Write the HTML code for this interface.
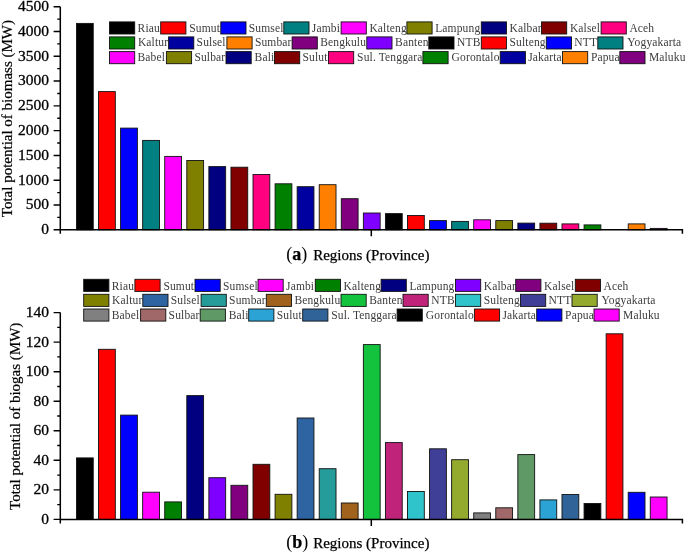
<!DOCTYPE html>
<html><head><meta charset="utf-8"><style>
html,body{margin:0;padding:0;background:#fff;}
body{width:685px;height:553px;overflow:hidden;}
svg{display:block;will-change:transform;}
text{font-family:"Liberation Serif",serif;fill:#000;}
.tl{font-size:15.5px;stroke:#000;stroke-width:0.3px;}
.lg{font-size:11.5px;fill:#3c3c3c;letter-spacing:0.15px;}
.yl{font-size:16px;stroke:#000;stroke-width:0.2px;}
.xl{font-size:15px;stroke:#000;stroke-width:0.25px;}
.xb{font-size:18px;font-weight:bold;}
.xp{font-size:18px;stroke-width:0;}
</style></head><body>
<svg width="685" height="553" viewBox="0 0 685 553" shape-rendering="auto">
<rect width="685" height="553" fill="#fff"/>
<rect x="76.45" y="23.4" width="16.8" height="206.4" fill="#000000" stroke="#111" stroke-width="0.9"/>
<rect x="98.52" y="91.6" width="16.8" height="138.2" fill="#FF0000" stroke="#111" stroke-width="0.9"/>
<rect x="120.59" y="128.1" width="16.8" height="101.7" fill="#0000FF" stroke="#111" stroke-width="0.9"/>
<rect x="142.66" y="140.4" width="16.8" height="89.4" fill="#008080" stroke="#111" stroke-width="0.9"/>
<rect x="164.73" y="156.4" width="16.8" height="73.4" fill="#FF00FF" stroke="#111" stroke-width="0.9"/>
<rect x="186.8" y="160.5" width="16.8" height="69.3" fill="#808000" stroke="#111" stroke-width="0.9"/>
<rect x="208.87" y="166.6" width="16.8" height="63.2" fill="#000080" stroke="#111" stroke-width="0.9"/>
<rect x="230.94" y="167.2" width="16.8" height="62.6" fill="#800000" stroke="#111" stroke-width="0.9"/>
<rect x="253.01" y="174.5" width="16.8" height="55.3" fill="#FF0080" stroke="#111" stroke-width="0.9"/>
<rect x="275.08" y="183.8" width="16.8" height="46" fill="#008000" stroke="#111" stroke-width="0.9"/>
<rect x="297.15" y="186.7" width="16.8" height="43.1" fill="#0000A0" stroke="#111" stroke-width="0.9"/>
<rect x="319.22" y="184.7" width="16.8" height="45.1" fill="#FF8000" stroke="#111" stroke-width="0.9"/>
<rect x="341.29" y="198.7" width="16.8" height="31.1" fill="#800080" stroke="#111" stroke-width="0.9"/>
<rect x="363.36" y="213" width="16.8" height="16.8" fill="#8000FF" stroke="#111" stroke-width="0.9"/>
<rect x="385.43" y="213.6" width="16.8" height="16.2" fill="#000000" stroke="#111" stroke-width="0.9"/>
<rect x="407.5" y="215.5" width="16.8" height="14.3" fill="#FF0000" stroke="#111" stroke-width="0.9"/>
<rect x="429.57" y="220.6" width="16.8" height="9.2" fill="#0000FF" stroke="#111" stroke-width="0.9"/>
<rect x="451.64" y="221.4" width="16.8" height="8.4" fill="#008080" stroke="#111" stroke-width="0.9"/>
<rect x="473.71" y="219.8" width="16.8" height="10" fill="#FF00FF" stroke="#111" stroke-width="0.9"/>
<rect x="495.78" y="220.6" width="16.8" height="9.2" fill="#808000" stroke="#111" stroke-width="0.9"/>
<rect x="517.85" y="223.1" width="16.8" height="6.7" fill="#000080" stroke="#111" stroke-width="0.9"/>
<rect x="539.92" y="223.2" width="16.8" height="6.6" fill="#800000" stroke="#111" stroke-width="0.9"/>
<rect x="561.99" y="223.9" width="16.8" height="5.9" fill="#FF0080" stroke="#111" stroke-width="0.9"/>
<rect x="584.06" y="224.9" width="16.8" height="4.9" fill="#008000" stroke="#111" stroke-width="0.9"/>
<rect x="628.2" y="223.9" width="16.8" height="5.9" fill="#FF8000" stroke="#111" stroke-width="0.9"/>
<rect x="650.27" y="228.4" width="16.8" height="1.4" fill="#800080" stroke="#111" stroke-width="0.9"/>
<path d="M60.3 6.7V229.8H682.4V233.8M60.3 229.8V233.8M371.3 229.8V236.3" fill="none" stroke="#000" stroke-width="1.5"/>
<text x="48.9" y="234.2" text-anchor="end" class="tl">0</text>
<text x="48.9" y="209.41" text-anchor="end" class="tl">500</text>
<text x="48.9" y="184.62" text-anchor="end" class="tl">1000</text>
<text x="48.9" y="159.83" text-anchor="end" class="tl">1500</text>
<text x="48.9" y="135.04" text-anchor="end" class="tl">2000</text>
<text x="48.9" y="110.26" text-anchor="end" class="tl">2500</text>
<text x="48.9" y="85.47" text-anchor="end" class="tl">3000</text>
<text x="48.9" y="60.68" text-anchor="end" class="tl">3500</text>
<text x="48.9" y="35.89" text-anchor="end" class="tl">4000</text>
<text x="48.9" y="11.1" text-anchor="end" class="tl">4500</text>
<path d="M53.6 229.8H60.3M53.6 205.01H60.3M53.6 180.22H60.3M53.6 155.43H60.3M53.6 130.64H60.3M53.6 105.86H60.3M53.6 81.07H60.3M53.6 56.28H60.3M53.6 31.49H60.3M53.6 6.7H60.3M57.2 217.41H60.3M57.2 192.62H60.3M57.2 167.83H60.3M57.2 143.04H60.3M57.2 118.25H60.3M57.2 93.46H60.3M57.2 68.67H60.3M57.2 43.88H60.3M57.2 19.09H60.3" stroke="#000" stroke-width="1.4" fill="none"/>
<text transform="translate(12.2,118.6) rotate(-90)" text-anchor="middle" class="yl" style="font-size:15px">Total potential of biomass (MW)</text>
<text x="286.3" y="259.5" class="xl"><tspan class="xp">(</tspan><tspan class="xb">a</tspan><tspan class="xp">)</tspan><tspan x="313.2">Regions (Province)</tspan></text>
<rect x="109.5" y="21.9" width="25.2" height="12.1" fill="#000000" stroke="#111" stroke-width="0.9"/>
<text x="137.6" y="31.6" class="lg">Riau</text>
<rect x="160.7" y="21.9" width="25.2" height="12.1" fill="#FF0000" stroke="#111" stroke-width="0.9"/>
<text x="189.2" y="31.6" class="lg">Sumut</text>
<rect x="220.8" y="21.9" width="25.2" height="12.1" fill="#0000FF" stroke="#111" stroke-width="0.9"/>
<text x="248.8" y="31.6" class="lg">Sumsel</text>
<rect x="283.8" y="21.9" width="25.2" height="12.1" fill="#008080" stroke="#111" stroke-width="0.9"/>
<text x="311.8" y="31.6" class="lg">Jambi</text>
<rect x="341.1" y="21.9" width="25.2" height="12.1" fill="#FF00FF" stroke="#111" stroke-width="0.9"/>
<text x="369.4" y="31.6" class="lg">Kalteng</text>
<rect x="406.9" y="21.9" width="25.2" height="12.1" fill="#808000" stroke="#111" stroke-width="0.9"/>
<text x="435.2" y="31.6" class="lg">Lampung</text>
<rect x="481.3" y="21.9" width="25.2" height="12.1" fill="#000080" stroke="#111" stroke-width="0.9"/>
<text x="509.5" y="31.6" class="lg">Kalbar</text>
<rect x="541.5" y="21.9" width="25.2" height="12.1" fill="#800000" stroke="#111" stroke-width="0.9"/>
<text x="569.9" y="31.6" class="lg">Kalsel</text>
<rect x="601.1" y="21.9" width="25.2" height="12.1" fill="#FF0080" stroke="#111" stroke-width="0.9"/>
<text x="629.4" y="31.6" class="lg">Aceh</text>
<rect x="109.5" y="36.9" width="25.2" height="12.1" fill="#008000" stroke="#111" stroke-width="0.9"/>
<text x="137.9" y="46.2" class="lg">Kaltur</text>
<rect x="168.6" y="36.9" width="25.2" height="12.1" fill="#0000A0" stroke="#111" stroke-width="0.9"/>
<text x="196.6" y="46.2" class="lg">Sulsel</text>
<rect x="226.9" y="36.9" width="25.2" height="12.1" fill="#FF8000" stroke="#111" stroke-width="0.9"/>
<text x="254.9" y="46.2" class="lg">Sumbar</text>
<rect x="292.1" y="36.9" width="25.2" height="12.1" fill="#800080" stroke="#111" stroke-width="0.9"/>
<text x="320.2" y="46.2" class="lg">Bengkulu</text>
<rect x="366.8" y="36.9" width="25.2" height="12.1" fill="#8000FF" stroke="#111" stroke-width="0.9"/>
<text x="395.1" y="46.2" class="lg">Banten</text>
<rect x="428.8" y="36.9" width="25.2" height="12.1" fill="#000000" stroke="#111" stroke-width="0.9"/>
<text x="457.1" y="46.2" class="lg">NTB</text>
<rect x="481.3" y="36.9" width="25.2" height="12.1" fill="#FF0000" stroke="#111" stroke-width="0.9"/>
<text x="509.5" y="46.2" class="lg">Sulteng</text>
<rect x="546.3" y="36.9" width="25.2" height="12.1" fill="#0000FF" stroke="#111" stroke-width="0.9"/>
<text x="574.3" y="46.2" class="lg">NTT</text>
<rect x="597.8" y="36.9" width="25.2" height="12.1" fill="#008080" stroke="#111" stroke-width="0.9"/>
<text x="627.3" y="46.2" class="lg">Yogyakarta</text>
<rect x="109.5" y="51.6" width="25.2" height="12.1" fill="#FF00FF" stroke="#111" stroke-width="0.9"/>
<text x="137.5" y="60.6" class="lg">Babel</text>
<rect x="166.4" y="51.6" width="25.2" height="12.1" fill="#808000" stroke="#111" stroke-width="0.9"/>
<text x="194.4" y="60.6" class="lg">Sulbar</text>
<rect x="226" y="51.6" width="25.2" height="12.1" fill="#000080" stroke="#111" stroke-width="0.9"/>
<text x="254.6" y="60.6" class="lg">Bali</text>
<rect x="274.5" y="51.6" width="25.2" height="12.1" fill="#800000" stroke="#111" stroke-width="0.9"/>
<text x="302.5" y="60.6" class="lg">Sulut</text>
<rect x="328.5" y="51.6" width="25.2" height="12.1" fill="#FF0080" stroke="#111" stroke-width="0.9"/>
<text x="357.1" y="60.6" class="lg">Sul. Tenggara</text>
<rect x="422.9" y="51.6" width="25.2" height="12.1" fill="#008000" stroke="#111" stroke-width="0.9"/>
<text x="451.6" y="60.6" class="lg">Gorontalo</text>
<rect x="500.2" y="51.6" width="25.2" height="12.1" fill="#0000A0" stroke="#111" stroke-width="0.9"/>
<text x="528.2" y="60.6" class="lg">Jakarta</text>
<rect x="562.5" y="51.6" width="25.2" height="12.1" fill="#FF8000" stroke="#111" stroke-width="0.9"/>
<text x="590.9" y="60.6" class="lg">Papua</text>
<rect x="619.8" y="51.6" width="25.2" height="12.1" fill="#800080" stroke="#111" stroke-width="0.9"/>
<text x="648.9" y="60.6" class="lg">Maluku</text>
<rect x="76.45" y="457.9" width="16.8" height="61.5" fill="#000000" stroke="#111" stroke-width="0.9"/>
<rect x="98.52" y="349.3" width="16.8" height="170.1" fill="#FF0000" stroke="#111" stroke-width="0.9"/>
<rect x="120.59" y="415.1" width="16.8" height="104.3" fill="#0000FF" stroke="#111" stroke-width="0.9"/>
<rect x="142.66" y="492.2" width="16.8" height="27.2" fill="#FF00FF" stroke="#111" stroke-width="0.9"/>
<rect x="164.73" y="501.9" width="16.8" height="17.5" fill="#008000" stroke="#111" stroke-width="0.9"/>
<rect x="186.8" y="395.6" width="16.8" height="123.8" fill="#000080" stroke="#111" stroke-width="0.9"/>
<rect x="208.87" y="477.7" width="16.8" height="41.7" fill="#8000FF" stroke="#111" stroke-width="0.9"/>
<rect x="230.94" y="485.3" width="16.8" height="34.1" fill="#800080" stroke="#111" stroke-width="0.9"/>
<rect x="253.01" y="464.3" width="16.8" height="55.1" fill="#800000" stroke="#111" stroke-width="0.9"/>
<rect x="275.08" y="494.3" width="16.8" height="25.1" fill="#808000" stroke="#111" stroke-width="0.9"/>
<rect x="297.15" y="418" width="16.8" height="101.4" fill="#2E64A2" stroke="#111" stroke-width="0.9"/>
<rect x="319.22" y="468.7" width="16.8" height="50.7" fill="#259B9A" stroke="#111" stroke-width="0.9"/>
<rect x="341.29" y="503" width="16.8" height="16.4" fill="#A0621C" stroke="#111" stroke-width="0.9"/>
<rect x="363.36" y="344.6" width="16.8" height="174.8" fill="#13C33E" stroke="#111" stroke-width="0.9"/>
<rect x="385.43" y="442.6" width="16.8" height="76.8" fill="#C0247A" stroke="#111" stroke-width="0.9"/>
<rect x="407.5" y="491.5" width="16.8" height="27.9" fill="#2FC3CB" stroke="#111" stroke-width="0.9"/>
<rect x="429.57" y="448.8" width="16.8" height="70.6" fill="#3F3F98" stroke="#111" stroke-width="0.9"/>
<rect x="451.64" y="459.7" width="16.8" height="59.7" fill="#94AA2F" stroke="#111" stroke-width="0.9"/>
<rect x="473.71" y="512.9" width="16.8" height="6.5" fill="#808080" stroke="#111" stroke-width="0.9"/>
<rect x="495.78" y="507.8" width="16.8" height="11.6" fill="#A06868" stroke="#111" stroke-width="0.9"/>
<rect x="517.85" y="454.6" width="16.8" height="64.8" fill="#5F9A66" stroke="#111" stroke-width="0.9"/>
<rect x="539.92" y="499.9" width="16.8" height="19.5" fill="#2BA3D4" stroke="#111" stroke-width="0.9"/>
<rect x="561.99" y="494.5" width="16.8" height="24.9" fill="#306498" stroke="#111" stroke-width="0.9"/>
<rect x="584.06" y="503.5" width="16.8" height="15.9" fill="#000000" stroke="#111" stroke-width="0.9"/>
<rect x="606.13" y="333.8" width="16.8" height="185.6" fill="#FF0000" stroke="#111" stroke-width="0.9"/>
<rect x="628.2" y="492.3" width="16.8" height="27.1" fill="#0000FF" stroke="#111" stroke-width="0.9"/>
<rect x="650.27" y="497" width="16.8" height="22.4" fill="#FF00FF" stroke="#111" stroke-width="0.9"/>
<path d="M60.3 312.6V519.4H682.4V523.4M60.3 519.4V523.4M371.3 519.4V525.9" fill="none" stroke="#000" stroke-width="1.5"/>
<text x="48.9" y="523.8" text-anchor="end" class="tl">0</text>
<text x="48.9" y="494.26" text-anchor="end" class="tl">20</text>
<text x="48.9" y="464.71" text-anchor="end" class="tl">40</text>
<text x="48.9" y="435.17" text-anchor="end" class="tl">60</text>
<text x="48.9" y="405.63" text-anchor="end" class="tl">80</text>
<text x="48.9" y="376.09" text-anchor="end" class="tl">100</text>
<text x="48.9" y="346.54" text-anchor="end" class="tl">120</text>
<text x="48.9" y="317" text-anchor="end" class="tl">140</text>
<path d="M53.6 519.4H60.3M53.6 489.86H60.3M53.6 460.31H60.3M53.6 430.77H60.3M53.6 401.23H60.3M53.6 371.69H60.3M53.6 342.14H60.3M53.6 312.6H60.3M57.2 504.63H60.3M57.2 475.09H60.3M57.2 445.54H60.3M57.2 416H60.3M57.2 386.46H60.3M57.2 356.91H60.3M57.2 327.37H60.3" stroke="#000" stroke-width="1.4" fill="none"/>
<text transform="translate(20.4,416.3) rotate(-90)" text-anchor="middle" class="yl" style="font-size:15px">Total potential of biogas (MW)</text>
<text x="286.3" y="548.1" class="xl"><tspan class="xp">(</tspan><tspan class="xb">b</tspan><tspan class="xp">)</tspan><tspan x="313.2">Regions (Province)</tspan></text>
<rect x="83.7" y="279.3" width="25.2" height="12.1" fill="#000000" stroke="#111" stroke-width="0.9"/>
<text x="111.8" y="289.6" class="lg">Riau</text>
<rect x="134.9" y="279.3" width="25.2" height="12.1" fill="#FF0000" stroke="#111" stroke-width="0.9"/>
<text x="163.4" y="289.6" class="lg">Sumut</text>
<rect x="195" y="279.3" width="25.2" height="12.1" fill="#0000FF" stroke="#111" stroke-width="0.9"/>
<text x="223" y="289.6" class="lg">Sumsel</text>
<rect x="258" y="279.3" width="25.2" height="12.1" fill="#FF00FF" stroke="#111" stroke-width="0.9"/>
<text x="286" y="289.6" class="lg">Jambi</text>
<rect x="315.3" y="279.3" width="25.2" height="12.1" fill="#008000" stroke="#111" stroke-width="0.9"/>
<text x="343.6" y="289.6" class="lg">Kalteng</text>
<rect x="381.1" y="279.3" width="25.2" height="12.1" fill="#000080" stroke="#111" stroke-width="0.9"/>
<text x="409.4" y="289.6" class="lg">Lampung</text>
<rect x="455.5" y="279.3" width="25.2" height="12.1" fill="#8000FF" stroke="#111" stroke-width="0.9"/>
<text x="483.7" y="289.6" class="lg">Kalbar</text>
<rect x="515.7" y="279.3" width="25.2" height="12.1" fill="#800080" stroke="#111" stroke-width="0.9"/>
<text x="544.1" y="289.6" class="lg">Kalsel</text>
<rect x="575.3" y="279.3" width="25.2" height="12.1" fill="#800000" stroke="#111" stroke-width="0.9"/>
<text x="603.6" y="289.6" class="lg">Aceh</text>
<rect x="83.7" y="294.3" width="25.2" height="12.1" fill="#808000" stroke="#111" stroke-width="0.9"/>
<text x="112.1" y="303.6" class="lg">Kaltur</text>
<rect x="142.8" y="294.3" width="25.2" height="12.1" fill="#2E64A2" stroke="#111" stroke-width="0.9"/>
<text x="170.8" y="303.6" class="lg">Sulsel</text>
<rect x="201.1" y="294.3" width="25.2" height="12.1" fill="#259B9A" stroke="#111" stroke-width="0.9"/>
<text x="229.1" y="303.6" class="lg">Sumbar</text>
<rect x="266.3" y="294.3" width="25.2" height="12.1" fill="#A0621C" stroke="#111" stroke-width="0.9"/>
<text x="294.4" y="303.6" class="lg">Bengkulu</text>
<rect x="341" y="294.3" width="25.2" height="12.1" fill="#13C33E" stroke="#111" stroke-width="0.9"/>
<text x="369.3" y="303.6" class="lg">Banten</text>
<rect x="403" y="294.3" width="25.2" height="12.1" fill="#C0247A" stroke="#111" stroke-width="0.9"/>
<text x="431.3" y="303.6" class="lg">NTB</text>
<rect x="455.5" y="294.3" width="25.2" height="12.1" fill="#2FC3CB" stroke="#111" stroke-width="0.9"/>
<text x="483.7" y="303.6" class="lg">Sulteng</text>
<rect x="520.5" y="294.3" width="25.2" height="12.1" fill="#3F3F98" stroke="#111" stroke-width="0.9"/>
<text x="548.5" y="303.6" class="lg">NTT</text>
<rect x="572" y="294.3" width="25.2" height="12.1" fill="#94AA2F" stroke="#111" stroke-width="0.9"/>
<text x="601.5" y="303.6" class="lg">Yogyakarta</text>
<rect x="83.7" y="309" width="25.2" height="12.1" fill="#808080" stroke="#111" stroke-width="0.9"/>
<text x="111.7" y="318.7" class="lg">Babel</text>
<rect x="140.6" y="309" width="25.2" height="12.1" fill="#A06868" stroke="#111" stroke-width="0.9"/>
<text x="168.6" y="318.7" class="lg">Sulbar</text>
<rect x="200.2" y="309" width="25.2" height="12.1" fill="#5F9A66" stroke="#111" stroke-width="0.9"/>
<text x="228.8" y="318.7" class="lg">Bali</text>
<rect x="248.7" y="309" width="25.2" height="12.1" fill="#2BA3D4" stroke="#111" stroke-width="0.9"/>
<text x="276.7" y="318.7" class="lg">Sulut</text>
<rect x="302.7" y="309" width="25.2" height="12.1" fill="#306498" stroke="#111" stroke-width="0.9"/>
<text x="331.3" y="318.7" class="lg">Sul. Tenggara</text>
<rect x="397.1" y="309" width="25.2" height="12.1" fill="#000000" stroke="#111" stroke-width="0.9"/>
<text x="425.8" y="318.7" class="lg">Gorontalo</text>
<rect x="474.4" y="309" width="25.2" height="12.1" fill="#FF0000" stroke="#111" stroke-width="0.9"/>
<text x="502.4" y="318.7" class="lg">Jakarta</text>
<rect x="536.7" y="309" width="25.2" height="12.1" fill="#0000FF" stroke="#111" stroke-width="0.9"/>
<text x="565.1" y="318.7" class="lg">Papua</text>
<rect x="594" y="309" width="25.2" height="12.1" fill="#FF00FF" stroke="#111" stroke-width="0.9"/>
<text x="623.1" y="318.7" class="lg">Maluku</text>
</svg>
</body></html>
